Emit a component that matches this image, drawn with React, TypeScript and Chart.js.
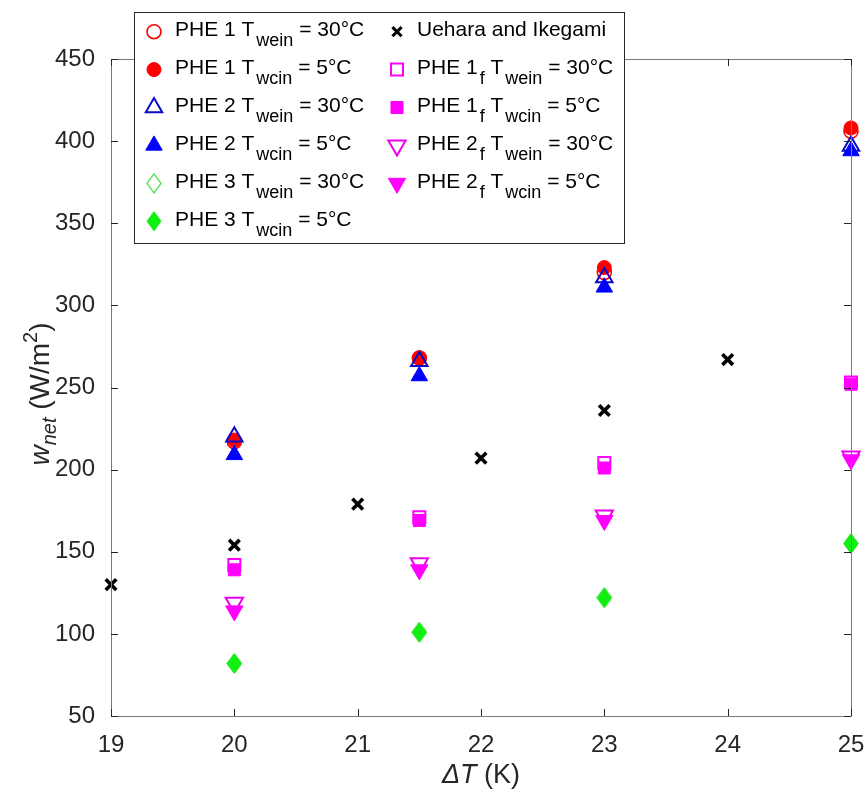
import React, { useEffect, useRef } from 'react';
import { Chart, registerables } from 'chart.js';

Chart.register(...registerables);

// ---------- data ----------
const xPHE = [20, 21.5, 23, 25];
const phe1Wein = [217, 268, 320, 406];
const phe1Wcin = [218, 268, 323, 408];
const phe2Wein = [220, 266, 317, 397];
const phe2Wcin = [209, 257, 311, 394];
const phe3Wein = [82, 101, 122, 155];
const phe3Wcin = [82, 101, 122, 155];
const xUehara = [19, 20, 21, 22, 23, 24];
const uehara = [130, 154, 179, 207, 236, 267];
const phe1fWein = [142, 171, 204, 253];
const phe1fWcin = [139, 169, 201, 252];
const phe2fWein = [119, 143, 172, 208];
const phe2fWcin = [114, 139, 169, 206];

const xTicks = [19, 20, 21, 22, 23, 24, 25];
const yTicks = [50, 100, 150, 200, 250, 300, 350, 400, 450];

const seriesLabels = [
  'PHE 1 T_{wein} = 30°C',
  'PHE 1 T_{wcin} = 5°C',
  'PHE 2 T_{wein} = 30°C',
  'PHE 2 T_{wcin} = 5°C',
  'PHE 3 T_{wein} = 30°C',
  'PHE 3 T_{wcin} = 5°C',
  'Uehara and Ikegami',
  'PHE 1_{f} T_{wein} = 30°C',
  'PHE 1_{f} T_{wcin} = 5°C',
  'PHE 2_{f} T_{wein} = 30°C',
  'PHE 2_{f} T_{wcin} = 5°C',
];

type Shape = 'circle' | 'triangle' | 'triangleDown' | 'square' | 'diamond' | 'x';
interface Marker { shape: Shape; fill: string | null; stroke: string; r: number; lw: number }

const markers: Marker[] = [
  { shape: 'circle', fill: null, stroke: '#ff0000', r: 7, lw: 1.6 },
  { shape: 'circle', fill: '#ff0000', stroke: '#ff0000', r: 7, lw: 1 },
  { shape: 'triangle', fill: null, stroke: '#0a0ac8', r: 9.5, lw: 2 },
  { shape: 'triangle', fill: '#0000ff', stroke: '#0000ff', r: 9.5, lw: 1 },
  { shape: 'diamond', fill: null, stroke: '#33dd33', r: 8, lw: 1.2 },
  { shape: 'diamond', fill: '#11ee11', stroke: '#11ee11', r: 8, lw: 1 },
  { shape: 'x', fill: null, stroke: '#000000', r: 7.5, lw: 3.6 },
  { shape: 'square', fill: null, stroke: '#ff00ff', r: 8.5, lw: 2 },
  { shape: 'square', fill: '#ff00ff', stroke: '#ff00ff', r: 8.5, lw: 1 },
  { shape: 'triangleDown', fill: null, stroke: '#ee00ee', r: 10, lw: 2 },
  { shape: 'triangleDown', fill: '#ff00ff', stroke: '#ff00ff', r: 10, lw: 1 },
];

const seriesX = [xPHE, xPHE, xPHE, xPHE, xPHE, xPHE, xUehara, xPHE, xPHE, xPHE, xPHE];
const seriesY = [phe1Wein, phe1Wcin, phe2Wein, phe2Wcin, phe3Wein, phe3Wcin, uehara, phe1fWein, phe1fWcin, phe2fWein, phe2fWcin];

const FONT = '"Liberation Sans", Arial, Helvetica, sans-serif';

// ---------- helpers ----------
function diamondImage(m: Marker): HTMLCanvasElement {
  const w = 14, h = 19;
  const c = document.createElement('canvas');
  c.width = w + 2; c.height = h + 2;
  const ctx = c.getContext('2d')!;
  ctx.beginPath();
  ctx.moveTo(c.width / 2, 1);
  ctx.lineTo(c.width - 1, c.height / 2);
  ctx.lineTo(c.width / 2, c.height - 1);
  ctx.lineTo(1, c.height / 2);
  ctx.closePath();
  if (m.fill) { ctx.fillStyle = m.fill; ctx.fill(); }
  ctx.strokeStyle = m.stroke; ctx.lineWidth = m.lw; ctx.stroke();
  return c;
}

function drawMarker(ctx: CanvasRenderingContext2D, m: Marker, x: number, y: number, img?: HTMLCanvasElement) {
  ctx.save();
  ctx.lineWidth = m.lw;
  ctx.strokeStyle = m.stroke;
  ctx.fillStyle = m.fill || 'rgba(0,0,0,0)';
  const r = m.r;
  ctx.beginPath();
  if (m.shape === 'circle') {
    ctx.arc(x, y, r, 0, Math.PI * 2);
  } else if (m.shape === 'triangle' || m.shape === 'triangleDown') {
    let a = m.shape === 'triangle' ? 0 : Math.PI;
    ctx.moveTo(x + Math.sin(a) * r, y - Math.cos(a) * r);
    a += (2 * Math.PI) / 3;
    ctx.lineTo(x + Math.sin(a) * r, y - Math.cos(a) * r);
    a += (2 * Math.PI) / 3;
    ctx.lineTo(x + Math.sin(a) * r, y - Math.cos(a) * r);
    ctx.closePath();
  } else if (m.shape === 'square') {
    const s = r * Math.SQRT1_2;
    ctx.rect(x - s, y - s, 2 * s, 2 * s);
  } else if (m.shape === 'x') {
    const s = r * Math.SQRT1_2;
    ctx.moveTo(x - s, y - s); ctx.lineTo(x + s, y + s);
    ctx.moveTo(x - s, y + s); ctx.lineTo(x + s, y - s);
  } else if (m.shape === 'diamond' && img) {
    ctx.drawImage(img, x - img.width / 2, y - img.height / 2);
    ctx.restore();
    return;
  }
  if (m.fill && m.shape !== 'x') ctx.fill();
  ctx.stroke();
  ctx.restore();
}

function parseLabel(s: string): { t: string; sub: boolean }[] {
  const out: { t: string; sub: boolean }[] = [];
  const re = /_\{([^}]*)\}/g;
  let last = 0; let mm: RegExpExecArray | null;
  while ((mm = re.exec(s))) {
    if (mm.index > last) out.push({ t: s.slice(last, mm.index), sub: false });
    out.push({ t: mm[1], sub: true });
    last = mm.index + mm[0].length;
  }
  if (last < s.length) out.push({ t: s.slice(last), sub: false });
  return out;
}

export default function App() {
  const ref = useRef<HTMLCanvasElement>(null);

  useEffect(() => {
    const canvas = ref.current!;
    const images = markers.map((m) => (m.shape === 'diamond' ? diamondImage(m) : undefined));

    const datasets = seriesY.map((ys, i) => {
      const m = markers[i];
      let pointStyle: any = 'circle';
      let rotation = 0;
      if (m.shape === 'triangle') pointStyle = 'triangle';
      if (m.shape === 'triangleDown') { pointStyle = 'triangle'; rotation = 180; }
      if (m.shape === 'square') pointStyle = 'rect';
      if (m.shape === 'x') pointStyle = 'crossRot';
      if (m.shape === 'diamond') pointStyle = images[i];
      return {
        label: seriesLabels[i],
        data: ys.map((v, k) => ({ x: seriesX[i][k], y: v })),
        pointStyle,
        rotation,
        pointRadius: m.r,
        pointHoverRadius: m.r,
        pointBorderWidth: m.lw,
        pointBorderColor: m.stroke,
        pointBackgroundColor: m.fill || 'rgba(0,0,0,0)',
        showLine: false,
        clip: false as any,
        order: seriesY.length - i,
      };
    });

    const framePlugin = {
      id: 'frame',
      afterDatasetsDraw(chart: any) {
        const { ctx, chartArea: a, scales } = chart;
        ctx.save();
        ctx.strokeStyle = '#7a7a7a';
        ctx.lineWidth = 1;
        ctx.beginPath();
        ctx.rect(Math.round(a.left) + 0.5, Math.round(a.top) + 0.5, Math.round(a.right - a.left), Math.round(a.bottom - a.top));
        ctx.stroke();
        ctx.strokeStyle = '#262626';
        ctx.beginPath();
        const tl = 7;
        xTicks.forEach((v) => {
          const px = Math.round(scales.x.getPixelForValue(v)) + 0.5;
          ctx.moveTo(px, a.bottom); ctx.lineTo(px, a.bottom - tl);
          ctx.moveTo(px, a.top); ctx.lineTo(px, a.top + tl);
        });
        yTicks.forEach((v) => {
          const py = Math.round(scales.y.getPixelForValue(v)) + 0.5;
          ctx.moveTo(a.left, py); ctx.lineTo(a.left + tl, py);
          ctx.moveTo(a.right, py); ctx.lineTo(a.right - tl, py);
        });
        ctx.stroke();

        // axis titles
        ctx.fillStyle = '#262626';
        ctx.textBaseline = 'alphabetic';
        ctx.font = `italic 27px ${FONT}`;
        const p1 = 'ΔT';
        const w1 = ctx.measureText(p1).width;
        ctx.font = `27px ${FONT}`;
        const p2 = ' (K)';
        const w2 = ctx.measureText(p2).width;
        const cx = (a.left + a.right) / 2;
        let xx = cx - (w1 + w2) / 2;
        const by = 783;
        ctx.font = `italic 27px ${FONT}`;
        ctx.fillText(p1, xx, by);
        xx += w1;
        ctx.font = `27px ${FONT}`;
        ctx.fillText(p2, xx, by);

        const parts = [
          { t: 'w', f: `italic 28px ${FONT}`, dy: 0 },
          { t: 'net', f: `italic 20px ${FONT}`, dy: 7 },
          { t: ' (W/m', f: `28px ${FONT}`, dy: 0 },
          { t: '2', f: `20px ${FONT}`, dy: -12 },
          { t: ')', f: `28px ${FONT}`, dy: 0 },
        ];
        let total = 0;
        const ws = parts.map((p) => { ctx.font = p.f; const w = ctx.measureText(p.t).width; total += w; return w; });
        ctx.save();
        ctx.translate(49, 394);
        ctx.rotate(-Math.PI / 2);
        let tx = -total / 2;
        parts.forEach((p, i) => { ctx.font = p.f; ctx.fillText(p.t, tx, p.dy); tx += ws[i]; });
        ctx.restore();
        ctx.restore();
      },
      afterDraw(chart: any) {
        const ctx: CanvasRenderingContext2D = chart.ctx;
        ctx.save();
        const L = 134, T = 12, R = 624, B = 243;
        ctx.fillStyle = '#ffffff';
        ctx.fillRect(L, T, R - L, B - T);
        ctx.strokeStyle = '#262626';
        ctx.lineWidth = 1;
        ctx.strokeRect(L + 0.5, T + 0.5, R - L, B - T);
        ctx.fillStyle = '#000000';
        ctx.textBaseline = 'alphabetic';
        const rowY0 = 31.7, rowH = 37.9;
        seriesLabels.forEach((lab, i) => {
          const col = i < 6 ? 0 : 1;
          const row = i < 6 ? i : i - 6;
          const my = rowY0 + row * rowH;
          const mx = col === 0 ? 154 : 397;
          const lm = markers[i].shape === 'x' ? { ...markers[i], r: 6.5, lw: 3 } : markers[i];
          drawMarker(ctx, lm, mx, my, images[i]);
          let x = col === 0 ? 175 : 417;
          parseLabel(lab).forEach((seg) => {
            if (seg.sub) {
              x += 2;
              ctx.font = `18px ${FONT}`;
              ctx.fillText(seg.t, x, my + 14.5);
              x += ctx.measureText(seg.t).width;
            } else {
              ctx.font = `21px ${FONT}`;
              ctx.fillText(seg.t, x, my + 4.5);
              x += ctx.measureText(seg.t).width;
            }
          });
        });
        ctx.restore();
      },
    };

    const chart = new Chart(canvas, {
      type: 'scatter',
      data: { datasets: datasets as any },
      options: {
        animation: false,
        responsive: false,
        devicePixelRatio: 1,
        events: [],
        layout: { padding: { left: 1, top: 59, right: 16, bottom: 0 } },
        plugins: { legend: { display: false }, tooltip: { enabled: false }, title: { display: false } },
        scales: {
          x: {
            type: 'linear',
            min: 19,
            max: 25,
            afterFit: (s: any) => { s.height = 76; s.paddingRight = 0; s.paddingLeft = 0; },
            afterBuildTicks: (s: any) => { s.ticks = xTicks.map((v) => ({ value: v })); },
            grid: { display: false },
            border: { display: false },
            ticks: { color: '#262626', font: { family: FONT, size: 24 }, padding: 7, maxRotation: 0 },
          },
          y: {
            type: 'linear',
            min: 50,
            max: 450,
            afterFit: (s: any) => { s.width = 110; },
            afterBuildTicks: (s: any) => { s.ticks = yTicks.map((v) => ({ value: v })); },
            grid: { display: false },
            border: { display: false },
            ticks: { color: '#262626', font: { family: FONT, size: 24 }, padding: 8 },
          },
        },
      },
      plugins: [framePlugin],
    });
    return () => chart.destroy();
  }, []);

  return (
    <div style={{ position: 'absolute', left: 0, top: 0, width: 867, height: 792, background: '#ffffff' }}>
      <canvas ref={ref} width={867} height={792} style={{ display: 'block', width: 867, height: 792 }} />
    </div>
  );
}
